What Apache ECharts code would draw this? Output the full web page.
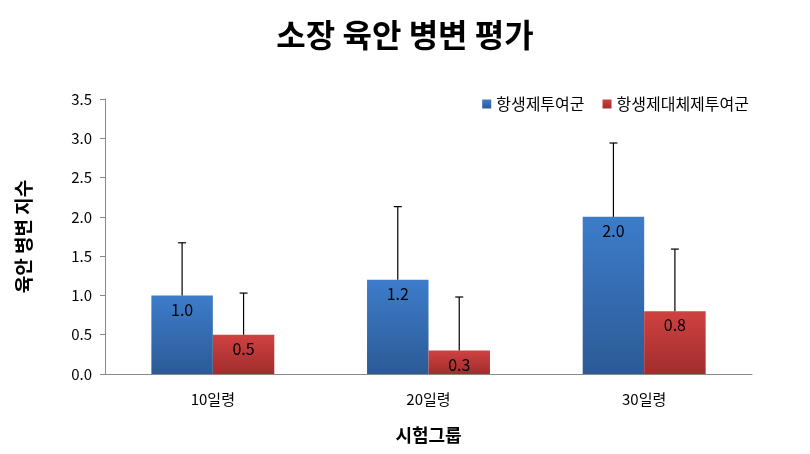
<!DOCTYPE html>
<html><head><meta charset="utf-8">
<script src="https://cdn.jsdelivr.net/npm/echarts@6/dist/echarts.min.js"></script>
<style>html,body{margin:0;padding:0;background:#fff}#c{width:810px;height:454px}</style>
</head><body><div id="c"></div>
<script>
const categories = ['10일령', '20일령', '30일령'];
const seriesNames = ['항생제투여군', '항생제대체제투여군'];
const antibioticValues = [1.0, 1.2, 2.0];
const alternativeValues = [0.5, 0.3, 0.8];
const antibioticUpper = [1.67, 2.13, 2.94];
const alternativeUpper = [1.03, 0.98, 1.59];
const yTicks = [0, 0.5, 1.0, 1.5, 2.0, 2.5, 3.0, 3.5];

const font = "'Noto Sans CJK KR', sans-serif";
const chart = echarts.init(document.getElementById('c'));

function grad(top, bottom) {
  return new echarts.graphic.LinearGradient(0, 0, 0, 1, [{offset: 0, color: top}, {offset: 1, color: bottom}]);
}

function errorSeries(idx, vals, uppers) {
  return {
    type: 'custom',
    name: seriesNames[idx] + '_err',
    z: 10,
    data: vals.map((v, i) => [i, v, uppers[i]]),
    renderItem: function (params, api) {
      const ci = api.value(0);
      const base = api.coord([ci, api.value(1)]);
      const up = api.coord([ci, api.value(2)]);
      const bw = api.size([1, 0])[0];
      const barW = bw * 0.285;
      const x = base[0] + (idx === 0 ? -barW / 2 : barW / 2);
      const style = {stroke: '#000', lineWidth: 1.2};
      return {type: 'group', children: [
        {type: 'line', shape: {x1: x, y1: base[1], x2: x, y2: up[1]}, style: style},
        {type: 'line', shape: {x1: x - 4, y1: up[1], x2: x + 4, y2: up[1]}, style: style}
      ]};
    }
  };
}

chart.setOption({
  animation: false,
  textStyle: {fontFamily: font},
  title: {
    text: '소장 육안 병변 평가', left: 'center', top: 14,
    textStyle: {fontFamily: font, fontSize: 32, fontWeight: 'bold', color: '#000'}
  },
  legend: {
    data: seriesNames, right: 56, top: 91, itemWidth: 9, itemHeight: 9, itemGap: 18,
    icon: 'rect',
    textStyle: {fontFamily: font, fontSize: 16, color: '#000'}
  },
  grid: {left: 105, right: 58, top: 99, bottom: 80},
  xAxis: {
    type: 'category', data: categories,
    name: '시험그룹', nameLocation: 'middle', nameGap: 52,
    nameTextStyle: {fontFamily: font, fontSize: 18, fontWeight: 'bold', color: '#000'},
    axisLine: {lineStyle: {color: '#898989'}},
    axisTick: {show: false},
    axisLabel: {fontFamily: font, fontSize: 15, color: '#000', margin: 18}
  },
  yAxis: {
    type: 'value', min: 0, max: 3.5, interval: 0.5,
    name: '육안 병변 지수', nameLocation: 'middle', nameGap: 72,
    nameTextStyle: {fontFamily: font, fontSize: 19, fontWeight: 'bold', color: '#000'},
    axisLine: {show: true, lineStyle: {color: '#898989'}},
    axisTick: {show: true, length: 5, lineStyle: {color: '#898989'}},
    splitLine: {show: false},
    axisLabel: {fontFamily: font, fontSize: 15, color: '#000', margin: 13,
      formatter: v => yTicks.includes(v) ? v.toFixed(1) : ''}
  },
  series: [
    {
      type: 'bar', name: seriesNames[0], data: antibioticValues,
      barWidth: '28.5%', barGap: '0%',
      itemStyle: {color: grad('#3d7ccb', '#2c5b96')},
      label: {show: true, position: 'insideTop', distance: 6, formatter: p => p.value.toFixed(1),
        fontFamily: font, fontSize: 16, color: '#000'}
    },
    {
      type: 'bar', name: seriesNames[1], data: alternativeValues,
      barWidth: '28.5%',
      itemStyle: {color: grad('#d04141', '#a12d2d')},
      label: {show: true, position: 'insideTop', distance: 6, formatter: p => p.value.toFixed(1),
        fontFamily: font, fontSize: 16, color: '#000'}
    },
    errorSeries(0, antibioticValues, antibioticUpper),
    errorSeries(1, alternativeValues, alternativeUpper)
  ]
});
</script></body></html>
